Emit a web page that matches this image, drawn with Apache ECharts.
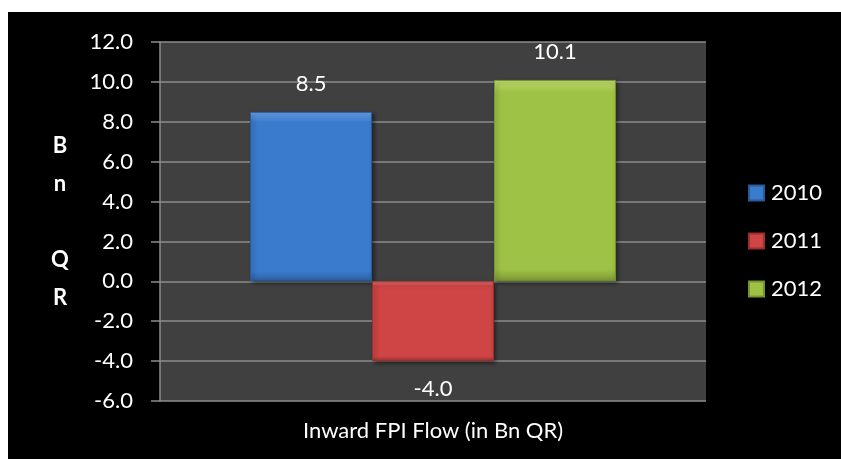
<!DOCTYPE html>
<html>
<head>
<meta charset="utf-8">
<script src="https://cdn.jsdelivr.net/npm/echarts@6/dist/echarts.min.js"></script>
<style>
  html, body { margin: 0; padding: 0; background: #ffffff; }
  #chart { position: absolute; left: 8px; top: 12px; width: 833px; height: 447px; background: #000000; }
</style>
</head>
<body>
<div id="chart"></div>
<script>
// Inward FPI flow, billions of QR, by year
const categories = ['Inward FPI Flow (in Bn QR)'];
const years = ['2010', '2011', '2012'];
const values2010 = [8.5];
const values2011 = [-4.0];
const values2012 = [10.1];
const yTicks = { min: -6, max: 12, interval: 2 };

const FONT = 'Lato, "Open Sans", sans-serif';

function bevel(top, mid, bottom) {
  return {
    type: 'linear', x: 0, y: 0, x2: 0, y2: 1,
    colorStops: [
      { offset: 0, color: top },
      { offset: 0.06, color: mid },
      { offset: 0.94, color: mid },
      { offset: 1, color: bottom }
    ]
  };
}

const palette = [
  { fill: bevel('#6aa6ec', '#3b7bcd', '#2c5f9f'), border: '#2a5a98' },
  { fill: bevel('#ee7373', '#cf4444', '#9e3030'), border: '#9a2f2f' },
  { fill: bevel('#c4e070', '#9ec245', '#7a9633'), border: '#789432' }
];

const seriesData = [values2010, values2011, values2012];

const chart = echarts.init(document.getElementById('chart'));
chart.setOption({
  backgroundColor: '#000000',
  animation: false,
  textStyle: { fontFamily: FONT },
  grid: {
    left: 152, top: 30, width: 546, height: 359,
    show: true, backgroundColor: '#404040', borderWidth: 0
  },
  legend: {
    orient: 'vertical',
    left: 735, top: 164,
    icon: 'rect',
    itemWidth: 15, itemHeight: 15, itemGap: 24,
    data: years,
    textStyle: { color: '#ffffff', fontSize: 22, fontFamily: FONT, lineHeight: 24, padding: [0, 0, 0, 2] }
  },
  xAxis: {
    type: 'category',
    data: categories,
    axisLine: { show: false, onZero: false },
    axisTick: { show: false },
    axisLabel: { show: false },
    name: categories[0],
    nameLocation: 'middle',
    nameGap: 19,
    nameTextStyle: { color: '#ffffff', fontSize: 22, fontFamily: FONT }
  },
  yAxis: {
    type: 'value',
    min: yTicks.min, max: yTicks.max, interval: yTicks.interval,
    axisLine: { show: true, lineStyle: { color: '#8c8c8c', width: 1.5 } },
    axisTick: { show: true, length: 9, lineStyle: { color: '#8c8c8c', width: 1.5 } },
    splitLine: { show: true, lineStyle: { color: '#8c8c8c', width: 1.5 } },
    axisLabel: {
      color: '#ffffff', fontSize: 22, fontFamily: FONT, margin: 27,
      formatter: v => v.toFixed(1)
    },
    name: 'B\nn\n \nQ\nR',
    nameLocation: 'middle',
    nameRotate: 0,
    nameGap: 100,
    nameTextStyle: {
      color: '#ffffff', fontSize: 22, fontWeight: 'bold', fontFamily: FONT,
      lineHeight: 38, align: 'center'
    }
  },
  series: years.map((y, i) => ({
    name: y,
    type: 'bar',
    data: seriesData[i],
    barGap: 0,
    barCategoryGap: '33%',
    itemStyle: {
      color: palette[i].fill,
      borderColor: palette[i].border,
      borderWidth: 1,
      shadowColor: 'rgba(0,0,0,0.45)',
      shadowBlur: 4,
      shadowOffsetX: 2,
      shadowOffsetY: 2
    },
    label: {
      show: true,
      position: seriesData[i][0] < 0 ? 'bottom' : 'top',
      distance: 17,
      color: '#ffffff',
      fontSize: 22,
      fontFamily: FONT,
      formatter: p => p.value.toFixed(1)
    }
  }))
});
</script>
</body>
</html>
